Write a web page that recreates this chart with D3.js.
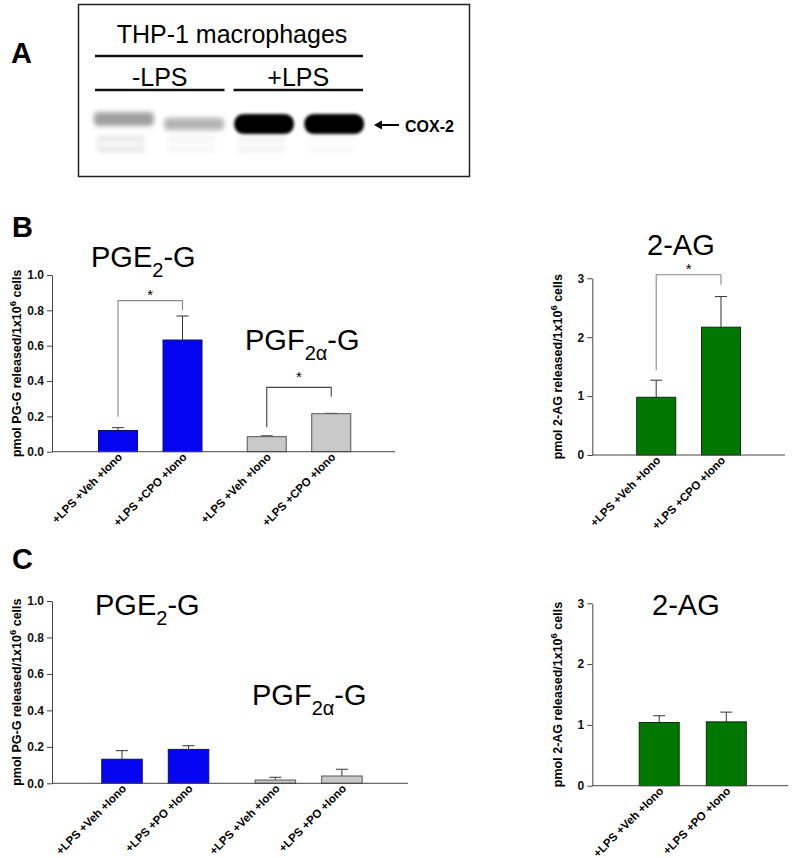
<!DOCTYPE html>
<html><head><meta charset="utf-8">
<script src="https://cdn.jsdelivr.net/npm/d3@7"></script>
<style>
body{margin:0;background:#fff}
svg{display:block}
text{font-family:Arial,"Liberation Sans",Helvetica,sans-serif}
</style>
</head><body>
<svg id="chart" width="800" height="858"></svg>
<script>
// ---------------- DATA ----------------
// Panel A (western blot)
const blotLanes = ["-LPS a", "-LPS b", "+LPS a", "+LPS b"];
const blotTreatments = ["-LPS", "+LPS"];
const cox2Intensity = [0.42, 0.32, 1.0, 1.0];
const faintBandIntensity = [0.14, 0.05, 0.08, 0.03];

// Panel B (CPO)
const conditionsB = ["+LPS +Veh +Iono", "+LPS +CPO +Iono"];
const pgeG_B = [0.120, 0.632];
const pgeG_B_err = [0.016, 0.136];
const pgfG_B = [0.085, 0.215];
const pgfG_B_err = [0.005, 0.002];
const ag_B = [0.98, 2.17];
const ag_B_err = [0.29, 0.52];

// Panel C (PO)
const conditionsC = ["+LPS +Veh +Iono", "+LPS +PO +Iono"];
const pgeG_C = [0.132, 0.186];
const pgeG_C_err = [0.047, 0.020];
const pgfG_C = [0.018, 0.040];
const pgfG_C_err = [0.015, 0.037];
const ag_C = [1.04, 1.05];
const ag_C_err = [0.11, 0.16];

const pgGroups = ["PGE2-G", "PGF2a-G"];
const ticksPG = [0.0, 0.2, 0.4, 0.6, 0.8, 1.0];
const ticksAG = [0, 1, 2, 3];

// significance brackets (data units): [left foot, top, right foot]
const bracketPGE_B = [0.198, 0.855, 0.80];
const bracketPGF_B = [0.138, 0.364, 0.311];
const bracketAG_B = [1.44, 3.06, 2.89];

// ---------------- DRAWING ----------------
const svg = d3.select("#chart");
const defs = svg.append("defs");
defs.append("filter").attr("id", "blurStrong").attr("x", "-20%").attr("y", "-50%").attr("width", "140%").attr("height", "200%")
  .append("feGaussianBlur").attr("stdDeviation", 1.6);
defs.append("filter").attr("id", "blurWeak").attr("x", "-20%").attr("y", "-80%").attr("width", "140%").attr("height", "260%")
  .append("feGaussianBlur").attr("stdDeviation", 2.4);

const COLORS = { blue: "#0505f2", blueEdge: "#101060", grey: "#c9c9c9", greyEdge: "#555", green: "#007800", greenEdge: "#0b2e0b" };

// ---- Panel A ----
const gA = svg.append("g");
gA.append("text").attr("x", 11).attr("y", 63).attr("font-size", 29).attr("font-weight", "bold").text("A");
gA.append("rect").attr("x", 78.5).attr("y", 4.5).attr("width", 391).attr("height", 172)
  .attr("fill", "none").attr("stroke", "#222").attr("stroke-width", 1.5);
gA.append("text").attr("x", 232).attr("y", 43).attr("text-anchor", "middle").attr("font-size", 25).text("THP-1 macrophages");
gA.append("line").attr("x1", 95).attr("x2", 363).attr("y1", 56).attr("y2", 56).attr("stroke", "#111").attr("stroke-width", 2.5);

const laneX = d3.scaleBand().domain(blotLanes).range([93, 365]).paddingInner(0.12);
const treatX = d3.scaleBand().domain(blotTreatments).range([95, 363]).paddingInner(0.065);
blotTreatments.forEach(t => {
  const x0 = treatX(t), w = treatX.bandwidth();
  gA.append("text").attr("x", x0 + w / 2).attr("y", 86).attr("text-anchor", "middle").attr("font-size", 25).text(t);
  gA.append("line").attr("x1", x0).attr("x2", x0 + w).attr("y1", 90).attr("y2", 90).attr("stroke", "#111").attr("stroke-width", 2.5);
});
const bandCenterY = [119, 124, 124, 124];
blotLanes.forEach((l, i) => {
  const I = cox2Intensity[i];
  const h = 9 + 11 * I;
  gA.append("rect")
    .attr("x", laneX(l) + 1).attr("width", laneX.bandwidth() - 2)
    .attr("y", bandCenterY[i] - h / 2).attr("height", h)
    .attr("rx", I > 0.8 ? 9 : 4)
    .attr("fill", I > 0.8 ? "#000" : "#555")
    .attr("opacity", I > 0.8 ? 1 : I * 1.35)
    .attr("filter", I > 0.8 ? "url(#blurStrong)" : "url(#blurWeak)");
  const f = faintBandIntensity[i];
  [139, 149].forEach(yy => {
    gA.append("rect").attr("x", laneX(l) + 4).attr("width", laneX.bandwidth() - 14)
      .attr("y", yy - 3).attr("height", 6).attr("fill", "#555").attr("opacity", f)
      .attr("filter", "url(#blurWeak)");
  });
});
// arrow
gA.append("line").attr("x1", 399).attr("x2", 376).attr("y1", 125).attr("y2", 125).attr("stroke", "#000").attr("stroke-width", 2);
gA.append("path").attr("d", "M374,125 L382,120.5 L382,129.5 Z").attr("fill", "#000");
gA.append("text").attr("x", 405).attr("y", 131.5).attr("font-size", 16).attr("font-weight", "bold").text("COX-2");

// ---- Panel letters ----
svg.append("text").attr("x", 12).attr("y", 237).attr("font-size", 29).attr("font-weight", "bold").text("B");
svg.append("text").attr("x", 12).attr("y", 569).attr("font-size", 29).attr("font-weight", "bold").text("C");

// ---- helpers ----
function title(g, x, y, main, sub, rest) {
  const t = g.append("text").attr("x", x).attr("y", y).attr("font-size", 29);
  t.append("tspan").text(main);
  t.append("tspan").attr("font-size", 20).attr("dy", 10).text(sub);
  t.append("tspan").attr("dy", -10).text(rest);
}

function yAxis(g, y, axisX, ticks, fmt) {
  const ax = g.append("g").attr("transform", `translate(${axisX},0)`)
    .call(d3.axisLeft(y).tickValues(ticks).tickFormat(fmt).tickSize(5).tickSizeOuter(0).tickPadding(3));
  ax.attr("font-size", 12).attr("font-family", "Arial,'Liberation Sans',sans-serif");
  ax.selectAll("path,line").attr("stroke", "#444");
  ax.selectAll("text").attr("font-size", 12).attr("font-weight", "bold").attr("fill", "#111");
}

function yLabel(g, x, yMid, text) {
  const t = g.append("text").attr("transform", `translate(${x},${yMid}) rotate(-90)`)
    .attr("text-anchor", "middle").attr("font-size", 12.5).attr("font-weight", "bold");
  t.append("tspan").text(text);
  t.append("tspan").attr("font-size", 9.5).attr("dy", -5).text("6");
  t.append("tspan").attr("dy", 5).text(" cells");
}

function xAxisLine(g, x0, x1, yb) {
  g.append("line").attr("x1", x0).attr("x2", x1).attr("y1", yb).attr("y2", yb).attr("stroke", "#444");
}

function bars(g, xs, y, cats, vals, errs, fill, edge) {
  const bw = xs.bandwidth();
  const d = cats.map((c, i) => ({ c, v: vals[i], e: errs[i] }));
  g.selectAll(null).data(d).enter().append("line")
    .attr("x1", r => xs(r.c) + bw / 2).attr("x2", r => xs(r.c) + bw / 2)
    .attr("y1", r => y(r.v)).attr("y2", r => y(r.v + r.e)).attr("stroke", "#333");
  g.selectAll(null).data(d).enter().append("line")
    .attr("x1", r => xs(r.c) + bw / 2 - 6).attr("x2", r => xs(r.c) + bw / 2 + 6)
    .attr("y1", r => y(r.v + r.e)).attr("y2", r => y(r.v + r.e)).attr("stroke", "#333");
  g.selectAll(null).data(d).enter().append("rect")
    .attr("x", r => xs(r.c)).attr("width", bw)
    .attr("y", r => y(r.v)).attr("height", r => y(0) - y(r.v))
    .attr("fill", fill).attr("stroke", edge).attr("stroke-width", 1);
}

function xLabels(g, xs, yb, cats) {
  const bw = xs.bandwidth();
  cats.forEach(c => {
    g.append("text").attr("transform", `translate(${xs(c) + bw / 2 + 5},${yb + 6}) rotate(-45)`)
      .attr("text-anchor", "end").attr("font-size", 11.5).attr("font-weight", "bold").text(c);
  });
}

function bracket(g, xs, y, cats, b, color, starGap) {
  const bw = xs.bandwidth();
  const xl = xs(cats[0]) + bw / 2, xr = xs(cats[1]) + bw / 2;
  g.append("path").attr("d", `M${xl},${y(b[0])} V${y(b[1])} H${xr} V${y(b[2])}`)
    .attr("fill", "none").attr("stroke", color).attr("stroke-width", 1.1);
  g.append("text").attr("x", (xl + xr) / 2).attr("y", y(b[1]) - starGap + 9)
    .attr("text-anchor", "middle").attr("font-size", 15).text("*");
}

// ---- left panels (PGE2-G and PGF2a-G) ----
function leftPanel(L, cats, pge, pgeE, pgf, pgfE, brE, brF) {
  const g = svg.append("g");
  const y = d3.scaleLinear().domain([0, 1]).range([L.yBot, L.yTop]);
  const outer = d3.scaleBand().domain(pgGroups).range(L.outer).paddingInner(L.outerPad).paddingOuter(0);
  const inner = d3.scaleBand().domain(cats).range([0, outer.bandwidth()]).paddingInner(L.innerPad).paddingOuter(0);
  const xsE = inner.copy().range([outer("PGE2-G"), outer("PGE2-G") + outer.bandwidth()]);
  const xsF = inner.copy().range([outer("PGF2a-G"), outer("PGF2a-G") + outer.bandwidth()]);
  if (brE) bracket(g, xsE, y, cats, brE, "#888", 10);
  if (brF) bracket(g, xsF, y, cats, brF, "#444", 14);
  bars(g, xsE, y, cats, pge, pgeE, COLORS.blue, COLORS.blueEdge);
  bars(g, xsF, y, cats, pgf, pgfE, COLORS.grey, COLORS.greyEdge);
  yAxis(g, y, L.axisX, ticksPG, d3.format(".1f"));
  xAxisLine(g, L.axisX, L.axisEnd, L.yBot);
  xLabels(g, xsE, L.yBot, cats);
  xLabels(g, xsF, L.yBot, cats);
  yLabel(g, L.labelX, (L.yTop + L.yBot) / 2, "pmol PG-G released/1x10");
  title(g, L.t1[0], L.t1[1], "PGE", "2", "-G");
  title(g, L.t2[0], L.t2[1], "PGF", "2\u03B1", "-G");
}

function rightPanel(L, cats, v, e, br) {
  const g = svg.append("g");
  const y = d3.scaleLinear().domain([0, 3]).range([L.yBot, L.yTop]);
  const xs = d3.scaleBand().domain(cats).range(L.inner).paddingInner(L.innerPad).paddingOuter(0);
  if (br) bracket(g, xs, y, cats, br, "#888", 10);
  bars(g, xs, y, cats, v, e, COLORS.green, COLORS.greenEdge);
  yAxis(g, y, L.axisX, ticksAG, d3.format("d"));
  xAxisLine(g, L.axisX, L.axisEnd, L.yBot);
  xLabels(g, xs, L.yBot, cats);
  yLabel(g, L.labelX, (L.yTop + L.yBot) / 2, "pmol 2-AG released/1x10");
  g.append("text").attr("x", L.t[0]).attr("y", L.t[1]).attr("font-size", 29).text("2-AG");
}

leftPanel({ axisX: 52, axisEnd: 395, yTop: 275, yBot: 451.7, outer: [98.5, 350.75], outerPad: 0.304, innerPad: 0.395,
            labelX: 21, t1: [91, 266.7], t2: [245, 350] },
  conditionsB, pgeG_B, pgeG_B_err, pgfG_B, pgfG_B_err, bracketPGE_B, bracketPGF_B);
leftPanel({ axisX: 52, axisEnd: 408, yTop: 601, yBot: 783.3, outer: [101.75, 362.15], outerPad: 0.302, innerPad: 0.391,
            labelX: 21, t1: [95, 615], t2: [252, 705] },
  conditionsC, pgeG_C, pgeG_C_err, pgfG_C, pgfG_C_err, null, null);
rightPanel({ axisX: 592.3, axisEnd: 785, yTop: 278.3, yBot: 455, inner: [636.7, 740.5], innerPad: 0.398,
             labelX: 562, t: [647, 255] }, conditionsB, ag_B, ag_B_err, bracketAG_B);
rightPanel({ axisX: 592.3, axisEnd: 788, yTop: 603.3, yBot: 785.7, inner: [639.2, 746.3], innerPad: 0.404,
             labelX: 562, t: [652, 615] }, conditionsC, ag_C, ag_C_err, null);
</script>
</body></html>
